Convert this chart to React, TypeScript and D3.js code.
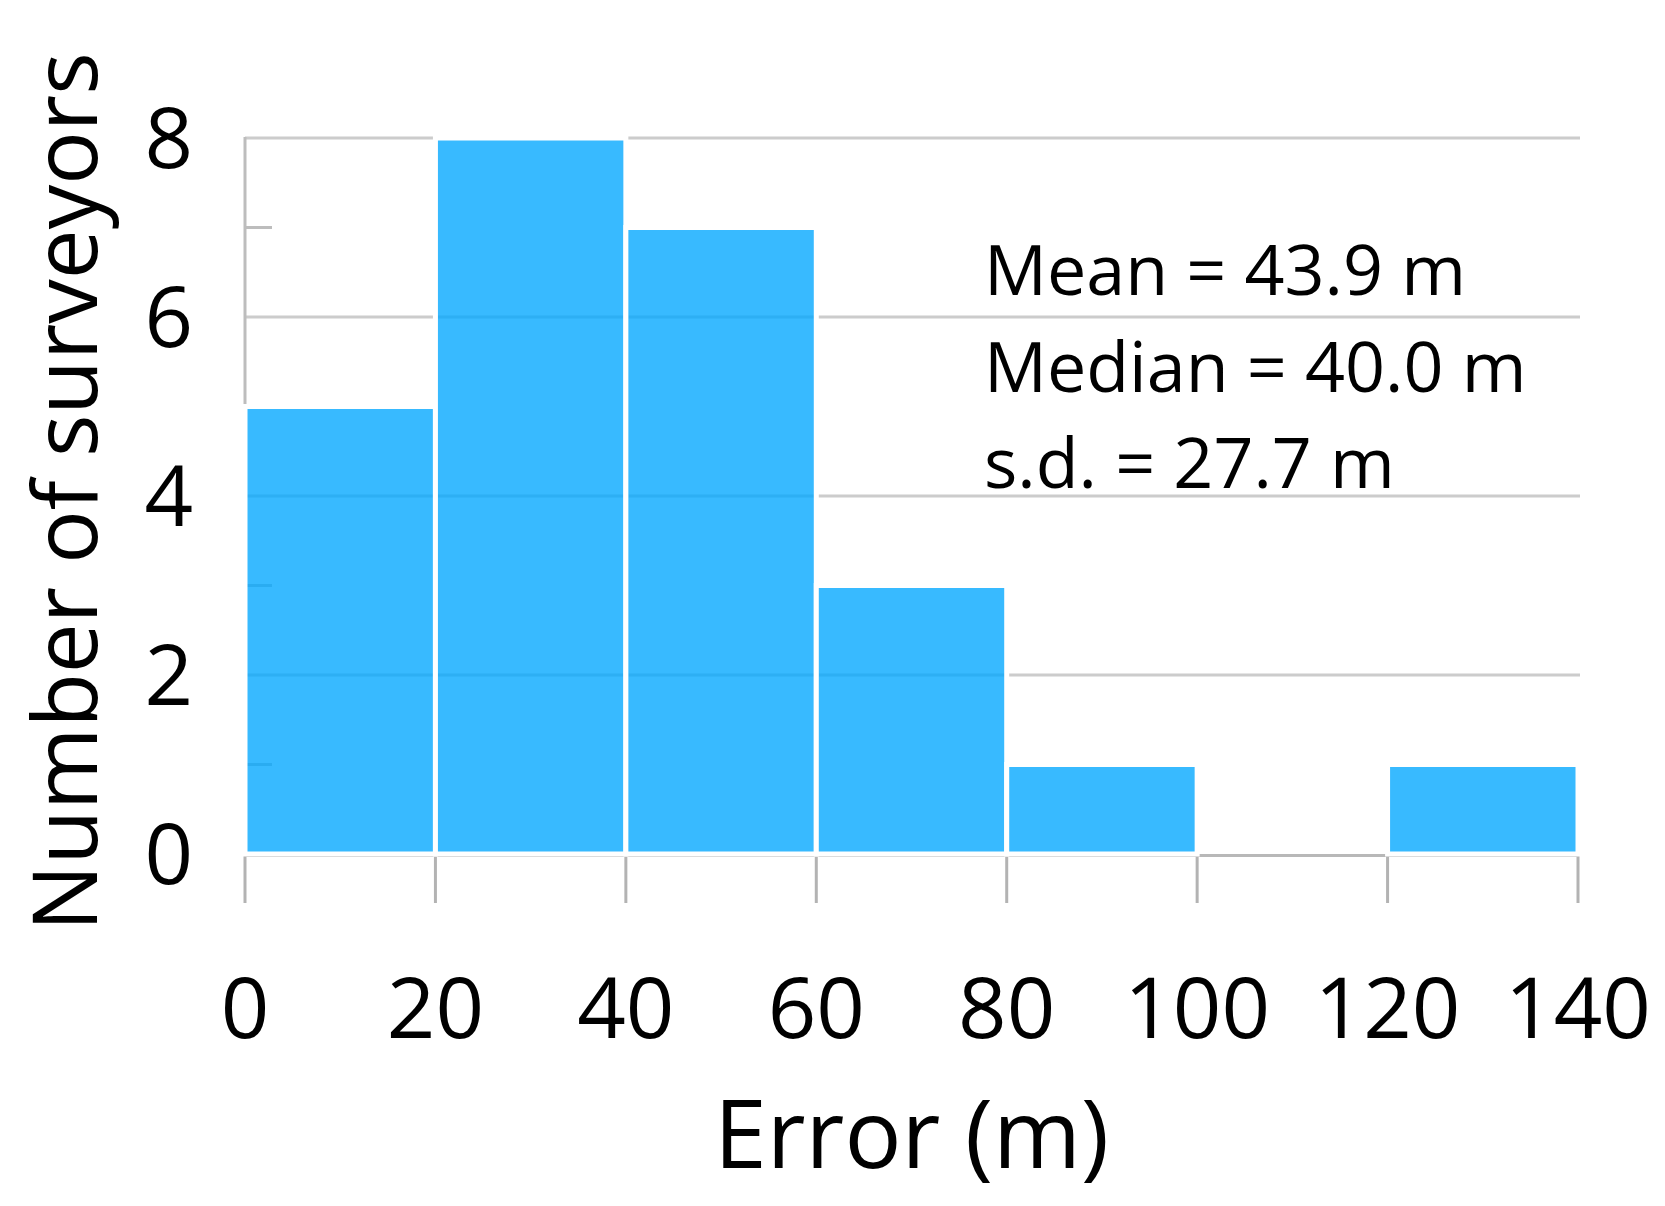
import React from "react";
import * as d3 from "d3";

const binStarts = [0, 20, 40, 60, 80, 100, 120];
const binWidth = 20;
const counts = [5, 8, 7, 3, 1, 0, 1];
const xTicks = [0, 20, 40, 60, 80, 100, 120, 140];
const yMajorTicks = [0, 2, 4, 6, 8];
const yMinorTicks = [1, 3, 5, 7];
const statLines = ["Mean = 43.9 m", "Median = 40.0 m", "s.d. = 27.7 m"];
const xTitle = "Error (m)";
const yTitle = "Number of surveyors";

const W = 1665;
const H = 1206;
const FONT = "'Open Sans', 'Noto Sans', sans-serif";

export default function App() {
  const x = d3.scaleLinear().domain([0, 140]).range([245, 1578]);
  const y = d3.scaleLinear().domain([0, 8]).range([854, 138]);
  const gridColor = "#cccccc";
  const axisColor = "#bdbdbd";
  const bars = binStarts
    .map((b, i) => ({ x0: b, x1: b + binWidth, v: counts[i] }))
    .filter((d) => d.v > 0);

  return (
    <svg
      width={W}
      height={H}
      style={{ position: "absolute", left: 0, top: 0, background: "#fff" }}
      fontFamily={FONT}
    >
      <rect x={0} y={0} width={W} height={H} fill="#fff" />
      {/* gridlines */}
      {yMajorTicks
        .filter((t) => t > 0)
        .map((t) => (
          <line
            key={"g" + t}
            x1={x(0)}
            x2={x(140) + 2}
            y1={y(t)}
            y2={y(t)}
            stroke={gridColor}
            strokeWidth={3}
          />
        ))}
      {/* left axis */}
      <line x1={x(0)} x2={x(0)} y1={y(8) - 1} y2={y(0) + 1} stroke={axisColor} strokeWidth={3} />
      {yMinorTicks.map((t) => (
        <line key={"m" + t} x1={x(0)} x2={x(0) + 27} y1={y(t)} y2={y(t)} stroke={axisColor} strokeWidth={3} />
      ))}
      {/* x axis */}
      <line x1={x(0)} x2={x(140)} y1={y(0) + 1.5} y2={y(0) + 1.5} stroke="#b8b8b8" strokeWidth={3} />
      {xTicks.map((t) => (
        <line key={"xt" + t} x1={x(t)} x2={x(t)} y1={y(0) + 1} y2={y(0) + 49} stroke="#b3b3b3" strokeWidth={3} />
      ))}
      {/* bars */}
      {bars.map((d, i) => (
        <rect
          key={"b" + i}
          x={x(d.x0)}
          y={y(d.v)}
          width={x(d.x1) - x(d.x0)}
          height={y(0) - y(d.v)}
          fill="rgb(0,166,255)"
          fillOpacity={0.78}
          stroke="#ffffff"
          strokeWidth={5}
        />
      ))}
      {/* y tick labels */}
      {yMajorTicks.map((t) => (
        <text key={"yl" + t} x={193} y={y(t) + 30} textAnchor="end" fontSize={85} fill="#000">
          {t}
        </text>
      ))}
      {/* x tick labels */}
      {xTicks.map((t) => (
        <text key={"xl" + t} x={x(t)} y={1038} textAnchor="middle" fontSize={85} fill="#000">
          {t}
        </text>
      ))}
      {/* axis titles */}
      <text x={(x(0) + x(140)) / 2} y={1168} textAnchor="middle" fontSize={95} fill="#000">
        {xTitle}
      </text>
      <text
        transform={`translate(97, ${(y(0) + y(8)) / 2 - 4}) rotate(-90)`}
        textAnchor="middle"
        fontSize={89}
        fill="#000"
      >
        {yTitle}
      </text>
      {/* stats */}
      {statLines.map((s, i) => (
        <text key={"s" + i} x={984} y={295 + i * 96.5} fontSize={70} fill="#000">
          {s}
        </text>
      ))}
    </svg>
  );
}
